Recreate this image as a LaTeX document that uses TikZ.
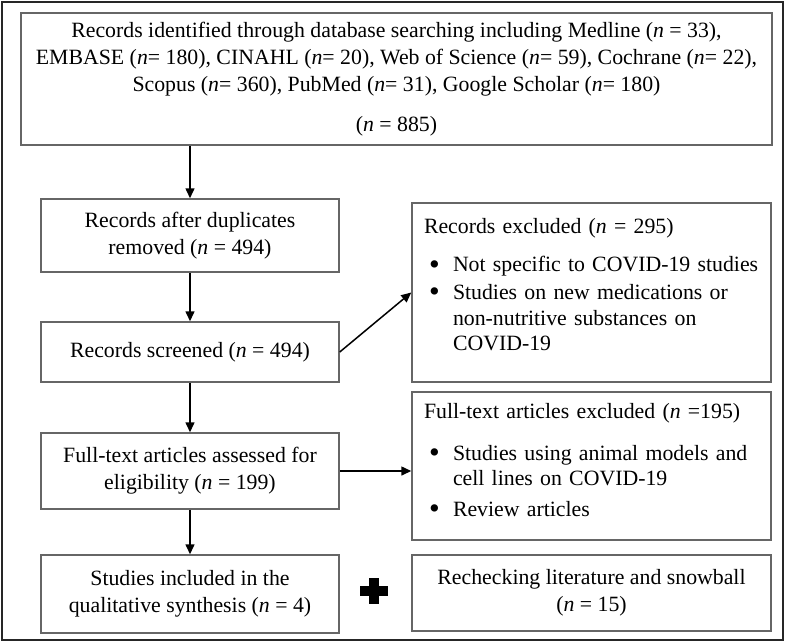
\documentclass[tikz,border=0pt]{standalone}
\usepackage{fontspec}
\setmainfont{Liberation Serif}
\usepackage{graphicx}
\usepackage{xcolor}
\usepackage{tikz}
\usetikzlibrary{positioning}
\usetikzlibrary{arrows.meta}

\newcommand{\nn}{\textit{n}}
\newcommand{\bull}{\hspace{2.5pt}\raisebox{-1.4pt}{\scalebox{1.4}{\textbullet}}}

\begin{document}
\begin{tikzpicture}[x=0.5pt,y=-0.5pt,
   >={Triangle[length=5pt,width=4.5pt]},
   font=\fontsize{10.9}{13.6}\selectfont]
\useasboundingbox (0,0) rectangle (786,643);
\draw[line width=1.2pt, black!85] (2,2) rectangle (783,640);

\begin{scope}[every node/.style={rectangle,draw=black!60,line width=0.75pt,inner sep=0pt,align=center}]
   \node[minimum width=375.5pt, minimum height=66pt] (top) at (396.5,79)
      {Records identified through database searching including Medline (\nn\ = 33),\\
       EMBASE (\nn= 180), CINAHL (\nn= 20), Web of Science (\nn= 59), Cochrane (\nn= 22),\\
       Scopus (\nn= 360), PubMed (\nn= 31), Google Scholar (\nn= 180)\\[6pt]
       (\nn\ = 885)};

   \node[minimum width=149pt, minimum height=36.5pt] (b2) at (190,235.5)
      {Records after duplicates\\ removed (\nn\ = 494)};
   \node[minimum width=149pt, minimum height=30pt] (b3) at (190,352)
      {Records screened (\nn\ = 494)};
   \node[minimum width=149pt, minimum height=38pt] (b4) at (190,471)
      {Full-text articles assessed for\\ eligibility (\nn\ = 199)};
   \node[minimum width=149pt, minimum height=39pt] (b5) at (190,594)
      {Studies included in the\\ qualitative synthesis (\nn\ = 4)};

   \node[text width=167.5pt, inner xsep=6pt, minimum height=89.5pt, align=left] (r1) at (591.5,292.5)
      {\renewcommand{\arraystretch}{0.95}%
       \begin{tabular}{@{}p{14.5pt}@{}l@{}}
       \multicolumn{2}{@{}l@{}}{Records excluded (\nn\ = 295)}\\[6pt]
       \bull & Not specific to COVID-19 studies\\[1pt]
       \bull & Studies on new medications or\\
       & non-nutritive substances on\\
       & COVID-19\\[5.5pt]
       \end{tabular}};
   \node[text width=167.5pt, inner xsep=6pt, minimum height=74pt, align=left] (r2) at (591.5,466)
      {\renewcommand{\arraystretch}{0.95}%
       \begin{tabular}{@{}p{14.5pt}@{}l@{}}
       \multicolumn{2}{@{}l@{}}{Full-text articles excluded (\nn\ =195)}\\[8pt]
       \bull & Studies using animal models and\\
       & cell lines on COVID-19\\[2.2pt]
       \bull & Review articles\\[4pt]
       \end{tabular}};
   \node[minimum width=179.5pt, minimum height=38pt] (r3) at (591.5,593)
      {Rechecking literature and snowball\\ (\nn\ = 15)};
\end{scope}

\begin{scope}[every edge/.style={draw,line width=0.75pt,black}]
   \path [->] (top.south -| b2.north) edge (b2.north);
   \path [->] (b2) edge (b3);
   \path [->] (b3) edge (b4);
   \path [->] (b4) edge (b5);
   \path [->] (b3.east) edge (r1.west);
   \path [->] (b4.east) edge (b4.east -| r2.west);
\end{scope}

% plus sign between the last two boxes
\coordinate (plus) at (374,591);
\draw[line width=5pt] ([xshift=-7pt]plus) -- ([xshift=7pt]plus);
\draw[line width=5pt] ([yshift=6.3pt]plus) -- ([yshift=-6.3pt]plus);
\end{tikzpicture}
\end{document}
